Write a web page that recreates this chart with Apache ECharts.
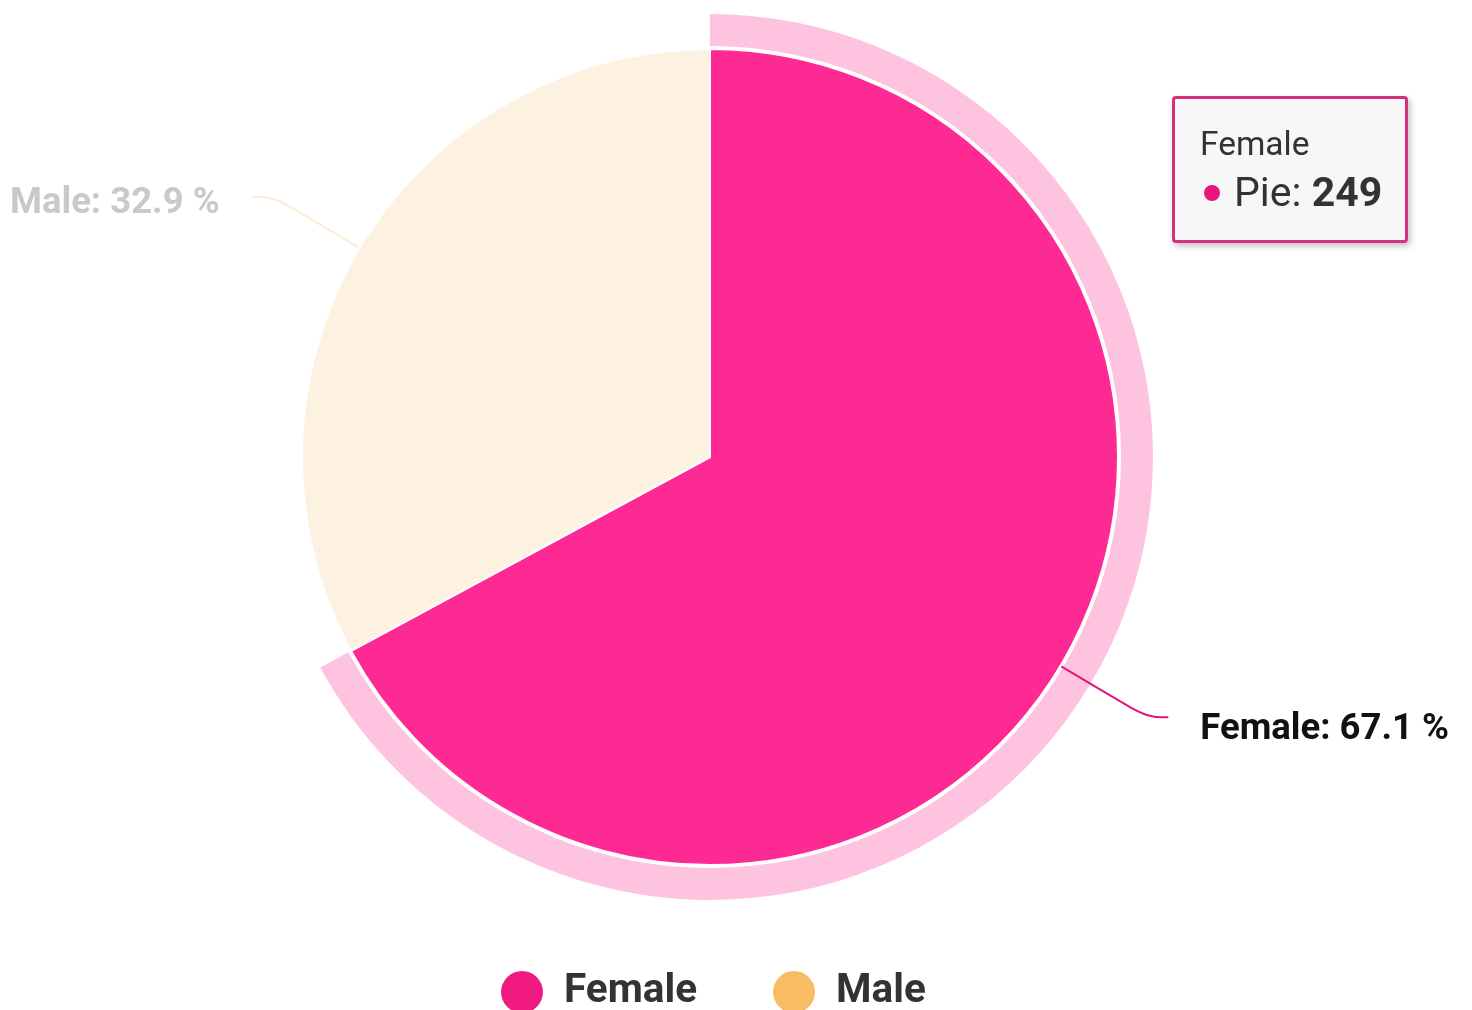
<!DOCTYPE html>
<html>
<head>
<meta charset="utf-8">
<script src="https://cdn.jsdelivr.net/npm/echarts@6/dist/echarts.min.js"></script>
<style>
html,body{margin:0;padding:0;background:#fff;}
#chart{width:1472px;height:1010px;}
</style>
</head>
<body>
<div id="chart"></div>
<script>
var categories = ['Female', 'Male'];
var values = [249, 122];
var seriesName = 'Pie';
var colors = ['#fd2a93', '#f8bc62'];

var chart = echarts.init(document.getElementById('chart'), null, {renderer: 'canvas'});

function richLabel(color, spacer) {
  return {
    t: {color: color, fontFamily: 'Roboto', fontSize: 36.5, fontWeight: 'bold', lineHeight: 44},
    s: {fontSize: 8, lineHeight: spacer, height: spacer}
  };
}

var pieData = [
  {
    name: categories[0], value: values[0],
    itemStyle: {color: colors[0]},
    label: {padding: [0, 0, 0, 27], rich: richLabel('#111', 26)},
    labelLine: {lineStyle: {color: '#e0157f'}}
  },
  {
    name: categories[1], value: values[1],
    itemStyle: {color: '#fdf1e1'},
    label: {padding: [0, 27, 0, 0], rich: richLabel('#c9c9c9', 14)},
    labelLine: {lineStyle: {color: '#fcecd6'}}
  }
];

var haloData = [
  {name: categories[0], value: values[0], itemStyle: {color: '#fec3df'}},
  {name: categories[1], value: values[1], itemStyle: {color: 'rgba(0,0,0,0)'}}
];

chart.setOption({
  animation: false,
  textStyle: {fontFamily: 'Roboto'},
  tooltip: {
    trigger: 'item',
    triggerOn: 'none',
    alwaysShowContent: true,
    transitionDuration: 0,
    backgroundColor: '#f7f7f7',
    borderColor: '#d4307c',
    borderWidth: 3,
    borderRadius: 4,
    padding: [21, 20, 24, 25],
    extraCssText: 'box-shadow: 2px 3px 6px rgba(0,0,0,0.25);width:185px;box-sizing:content-box;',
    position: function () { return [1172, 96]; },
    formatter: function (p) {
      return '<div style="font-family:Roboto;font-size:33.5px;color:#333;line-height:48px;height:48px;">' + p.name + '</div>' +
        '<div style="font-family:Roboto;font-size:41px;color:#333;line-height:48px;height:48px;white-space:nowrap;">' +
        '<span style="display:inline-block;width:16px;height:16px;border-radius:50%;background:#e8157c;vertical-align:middle;margin-left:4px;margin-right:14px;margin-top:-4px;"></span>' +
        p.seriesName + ': <b>' + p.value + '</b></div>';
    }
  },
  legend: {
    data: [
      {name: categories[0], itemStyle: {color: '#f01a80'}},
      {name: categories[1], itemStyle: {color: colors[1]}}
    ],
    icon: 'circle',
    left: 496,
    top: 966,
    itemWidth: 42,
    itemHeight: 42,
    itemGap: 76,
    textStyle: {fontFamily: 'Roboto', fontSize: 40.5, fontWeight: 'bold', color: '#333', padding: [0, 0, 0, 16]}
  },
  series: [
    {
      name: 'halo',
      type: 'pie',
      silent: true,
      tooltip: {show: false},
      center: [710, 457],
      radius: [411, 443],
      startAngle: 90,
      label: {show: false},
      labelLine: {show: false},
      data: haloData,
      z: 1
    },
    {
      name: seriesName,
      type: 'pie',
      center: [710, 457],
      radius: [0, 408],
      startAngle: 90,
      percentPrecision: 1,
      bleedMargin: 0,
      itemStyle: {borderColor: '#fff', borderWidth: 2},
      label: {
        show: true,
        position: 'outside',
        overflow: 'none',
        edgeDistance: 0,
        formatter: function (p) {
          return '{s| }\n{t|' + p.name + ': ' + p.percent + ' %}';
        }
      },
      labelLine: {show: true, length: 100, length2: 22, smooth: 0.4, lineStyle: {width: 2}},
      emphasis: {disabled: true},
      data: pieData,
      z: 2
    }
  ]
});

chart.dispatchAction({type: 'showTip', seriesIndex: 1, dataIndex: 0});
</script>
</body>
</html>
